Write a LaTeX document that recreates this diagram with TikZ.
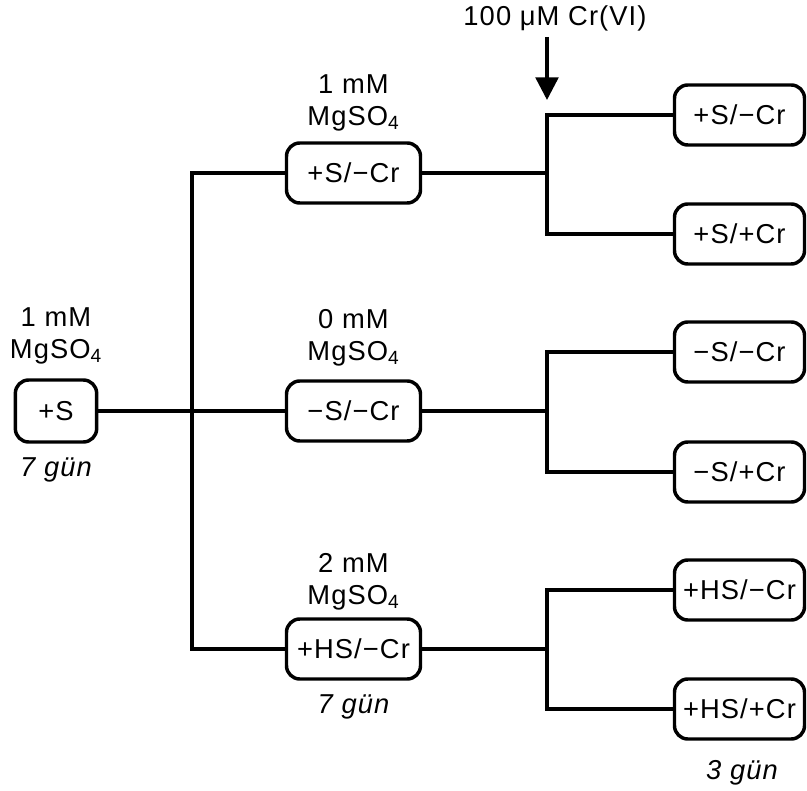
\documentclass[tikz,border=0pt]{standalone}
\usepackage{fontspec}
\setmainfont{Liberation Sans}[LetterSpace=4]
\usepackage{tikz}
\usetikzlibrary{arrows.meta}

\begin{document}
\begin{tikzpicture}[x=0.75pt, y=-0.75pt, >=Triangle,
    box/.style={draw, line width=2.6pt, rounded corners=10pt, inner sep=0pt,
        minimum height=45pt, font=\fontsize{20.5}{24}\selectfont},
    txt/.style={align=center, font=\fontsize{20.5}{24}\selectfont},
    days/.style={font=\fontsize{20.5}{24}\selectfont\itshape},
    link/.style={line width=2.6pt}]
    \useasboundingbox (0,0) rectangle (807,791);

    % Starting culture
    \node[box, minimum width=61pt, minimum height=46.5pt] (s) at (56,411) {+S};
    \node[txt] (ls) at (56,336) {1 mM\\MgSO\textsubscript{4}};
    \node[days] (ds) at (56,470) {7 gün};

    % Pre-treatment
    \node[box, minimum width=100.5pt] (m1) at (353.5,173) {+S/−Cr};
    \node[box, minimum width=100.5pt] (m2) at (353.5,411) {−S/−Cr};
    \node[box, minimum width=100.5pt] (m3) at (353.5,649) {+HS/−Cr};
    \node[txt] (l1) at (353.5,103) {1 mM\\MgSO\textsubscript{4}};
    \node[txt] (l2) at (353.5,338) {0 mM\\MgSO\textsubscript{4}};
    \node[txt] (l3) at (353.5,582) {2 mM\\MgSO\textsubscript{4}};
    \node[days] (dm) at (353.5,707) {7 gün};

    % Treatment
    \node[box, minimum width=97.5pt] (a1) at (739.5,115) {+S/−Cr};
    \node[box, minimum width=97.5pt] (a2) at (739.5,234) {+S/+Cr};
    \node[box, minimum width=97.5pt] (b1) at (739.5,352) {−S/−Cr};
    \node[box, minimum width=97.5pt] (b2) at (739.5,472) {−S/+Cr};
    \node[box, minimum width=97.5pt] (c1) at (739.5,590) {+HS/−Cr};
    \node[box, minimum width=97.5pt] (c2) at (739.5,709) {+HS/+Cr};
    \node[days] (dr) at (742,773) {3 gün};

    % Branch points
    \coordinate (t) at (192,411);
    \coordinate (ra) at (547,173);
    \coordinate (rb) at (547,411);
    \coordinate (rc) at (547,649);

    % Tree
    \draw[link] (s) -- (m2);
    \draw[link] (m1.west) -| (t) |- (m3.west);
    \draw[link] (m1) -- (ra);
    \draw[link] (m2) -- (rb);
    \draw[link] (m3) -- (rc);
    \draw[link] (a1.west) -| (ra) |- (a2.west);
    \draw[link] (b1.west) -| (rb) |- (b2.west);
    \draw[link] (c1.west) -| (rc) |- (c2.west);

    % Chromium addition
    \node[txt] (cr) at (555,18) {100 μM Cr(VI)};
    \coordinate (ct) at (547,37);
    \coordinate (cb) at (547,100);
    \draw[line width=2.6pt, -{Triangle[width=17pt, length=17pt]}] (ct) -- (cb);
\end{tikzpicture}
\end{document}
